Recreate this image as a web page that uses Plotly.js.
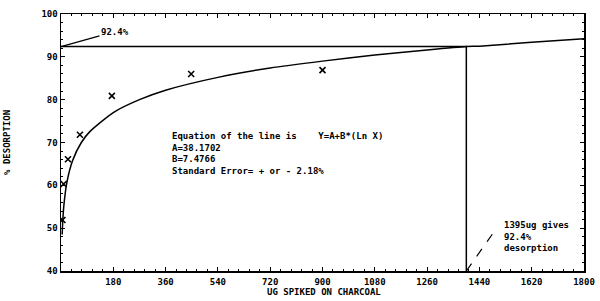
<!DOCTYPE html>
<html>
<head>
<meta charset="utf-8">
<script src="https://cdn.plot.ly/plotly-3.0.1.min.js"></script>
<style>html,body{margin:0;padding:0;background:#fff;}#chart{width:600px;height:301px;}</style>
</head>
<body>
<div id="chart"></div>
<script>
// Measured data points (ug spiked, % desorption)
const spikedUg = [5, 9, 24, 65, 175, 448, 900];
const desorptionPct = [51.9, 60.3, 66.1, 71.8, 80.9, 86.0, 86.9];

// Fitted curve
const curveX = [4, 6, 10, 20, 40, 70, 100, 180, 270, 360, 540, 720, 900, 1080, 1260, 1395, 1440, 1620, 1800];
const curveY = [48.5, 51.6, 55.4, 60.6, 65.8, 70.0, 72.6, 77.0, 80.0, 82.2, 85.2, 87.4, 89.0, 90.4, 91.6, 92.4, 92.5, 93.4, 94.2];

// Reference lines
const refX = [0, 1395, 1395];
const refY = [92.4, 92.4, 40];

const xTicks = [180, 360, 540, 720, 900, 1080, 1260, 1440, 1620, 1800];
const xTickText = ['180', '360', '540', '720', '900', '1080', '1260', '1440', '1620', '1800'];
const yTicks = [40, 50, 60, 70, 80, 90, 100];
const yTickText = ['40', '50', '60', '70', '80', '90', '100'];

const eqLines = ['Equation of the line is    Y=A+B*(Ln X)', 'A=38.1702', 'B=7.4766', 'Standard Error= + or - 2.18%'];
const noteLines = ['1395ug gives', '92.4%', 'desorption'];

const F = {family: 'DejaVu Sans Mono, monospace', size: 9, color: '#000', weight: 'bold'};

const traces = [
  {x: refX, y: refY, mode: 'lines', line: {color: '#000', width: 1.5}, hoverinfo: 'skip'},
  {x: curveX, y: curveY, mode: 'lines', line: {color: '#000', width: 1.5, shape: 'spline', smoothing: 0.6}, hoverinfo: 'skip'},
  {x: spikedUg, y: desorptionPct, mode: 'markers', marker: {symbol: 'x-thin', size: 6, line: {color: '#000', width: 1.6}, color: '#000'}}
];

const annotations = [
  {x: 379, y: 67.43, xref: 'x', yref: 'y', text: eqLines.join('<br>'), align: 'left', showarrow: false, xanchor: 'left', yanchor: 'middle', font: F, borderpad: 0},
  {x: 1521, y: 47.94, xref: 'x', yref: 'y', text: noteLines.join('<br>'), align: 'left', showarrow: false, xanchor: 'left', yanchor: 'middle', font: F, borderpad: 0},
  {x: 0, y: 92.4, xref: 'x', yref: 'y', text: '92.4%', showarrow: true, arrowhead: 0, arrowwidth: 1.2, arrowcolor: '#000', ax: 54, ay: -15, font: F, standoff: 0},
  {x: -0.1034, y: 0.502, xref: 'paper', yref: 'paper', text: '% DESORPTION', textangle: -90, showarrow: false, xanchor: 'center', yanchor: 'middle', font: F},
  {x: 0.502, y: -0.082, xref: 'paper', yref: 'paper', text: 'UG SPIKED ON CHARCOAL', showarrow: false, xanchor: 'center', yanchor: 'middle', font: F}
];

const axCommon = {
  showgrid: false, zeroline: false, showline: true, linecolor: '#000', linewidth: 1.5,
  mirror: 'allticks', ticks: 'inside', ticklen: 4, tickcolor: '#000', tickwidth: 1,
  tickfont: F, tickmode: 'array'
};

const layout = {
  width: 600, height: 301,
  margin: {l: 61, r: 16, t: 14, b: 30},
  paper_bgcolor: '#fff', plot_bgcolor: '#fff',
  showlegend: false,
  xaxis: Object.assign({}, axCommon, {range: [0, 1800], tickvals: xTicks, ticktext: xTickText, ticklabelstandoff: 2,
    minor: {tick0: 0, dtick: 36, ticks: 'inside', ticklen: 2, tickcolor: '#000', tickwidth: 1}}),
  yaxis: Object.assign({}, axCommon, {range: [40, 100], tickvals: yTicks, ticktext: yTickText,
    minor: {tick0: 40, dtick: 2, ticks: 'inside', ticklen: 2, tickcolor: '#000', tickwidth: 1}}),
  shapes: [
    {type: 'line', xref: 'x', yref: 'y', x0: 1395, y0: 40, x1: 1497, y1: 49.8, line: {color: '#000', width: 1.2, dash: 'dash'}}
  ],
  annotations: annotations
};

Plotly.newPlot('chart', traces, layout, {staticPlot: true, displayModeBar: false});
</script>
</body>
</html>
